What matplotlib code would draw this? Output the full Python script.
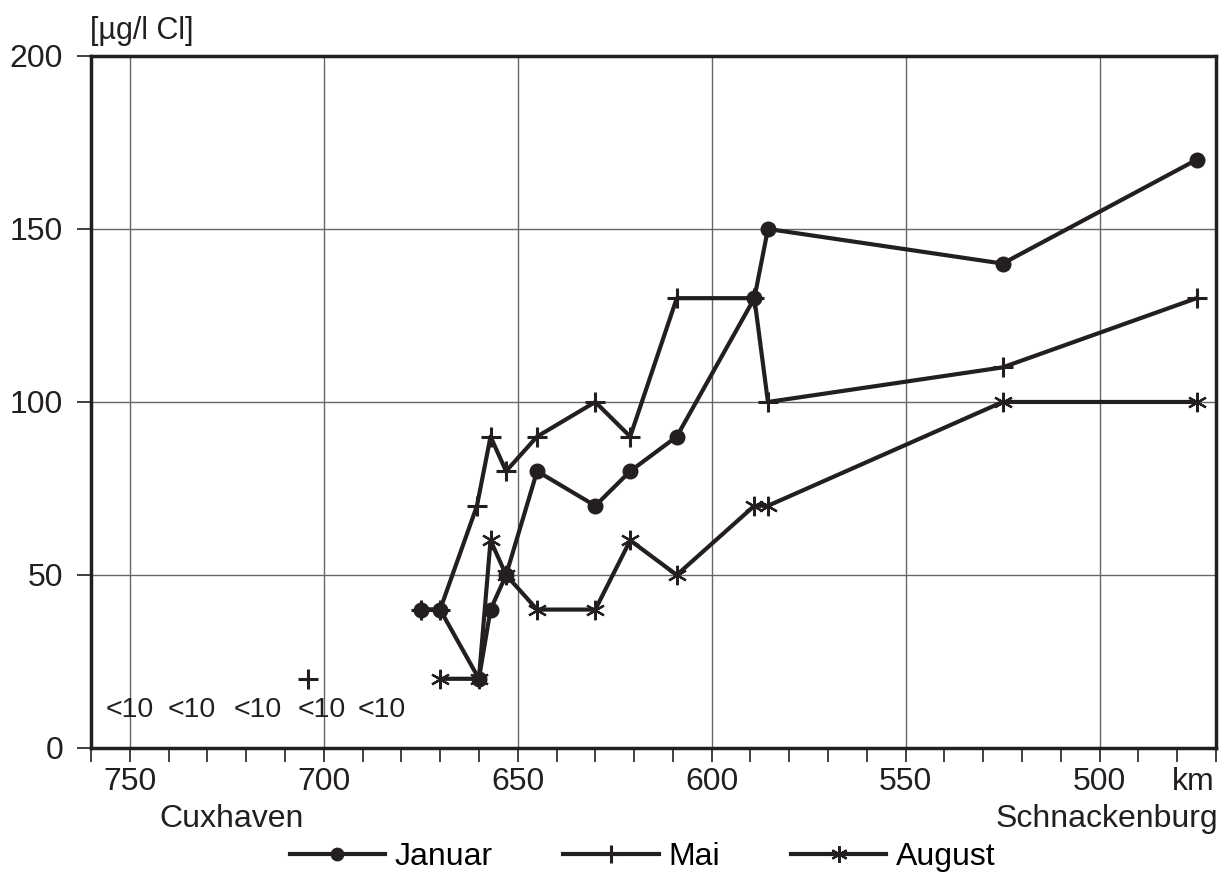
import matplotlib
matplotlib.use("Agg")
import matplotlib.pyplot as plt
import matplotlib.ticker as mticker

# ── Data (Elbe km, µg/l Cl) ───────────────────────────────────────────────────
km_januar = [675, 670, 660, 657, 653, 645, 630, 621, 609, 589, 585.5, 525, 475]
val_januar = [40, 40, 20, 40, 50, 80, 70, 80, 90, 130, 150, 140, 170]

km_mai = [675, 670, 660.5, 657, 653, 645, 630, 621, 609, 589, 585.5, 525, 475]
val_mai = [40, 40, 70, 90, 80, 90, 100, 90, 130, 130, 100, 110, 130]
km_mai_single = [704]
val_mai_single = [20]

km_august = [670, 660, 657, 653, 645, 630, 621, 609, 589, 585.5, 525, 475]
val_august = [20, 20, 60, 50, 40, 40, 60, 50, 70, 70, 100, 100]

below_km = [750, 734, 717, 700.5, 685]
below_label = "<10"

_INK = "#231f20"
_GRID = "#666666"
_FS = 23
plt.rcParams["font.family"] = ["Liberation Sans", "DejaVu Sans"]

fig = plt.figure(figsize=(12.24, 8.73), dpi=100)
ax = fig.add_axes([0.0743, 0.1432, 0.9192, 0.7927])

ax.plot(km_januar, val_januar, color=_INK, lw=3, marker="o", ms=10.5,
        label="Januar", zorder=3)
ax.plot(km_mai, val_mai, color=_INK, lw=3, marker="+", ms=15, mew=2.2,
        label="Mai", zorder=3)
ax.plot(km_mai_single, val_mai_single, color=_INK, lw=0, marker="+", ms=15,
        mew=2.2, zorder=3)
ax.plot(km_august, val_august, color=_INK, lw=3, marker=(6, 2, 0), ms=14,
        mew=1.6, label="August", zorder=3)

for k in below_km:
    ax.text(k, 11, below_label, ha="center", va="center", fontsize=20.5,
            color=_INK)

ax.set_xlim(760, 470)
ax.set_ylim(0, 200)
ax.set_xticks([750, 700, 650, 600, 550, 500])
ax.xaxis.set_minor_locator(mticker.MultipleLocator(10))
ax.set_yticks([0, 50, 100, 150, 200])
ax.grid(True, which="major", color=_GRID, lw=1.0)
ax.set_axisbelow(True)

for sp in ax.spines.values():
    sp.set_color(_INK)
    sp.set_linewidth(2.5)

ax.tick_params(axis="x", which="both", direction="out", length=10, width=1.2,
               colors=_INK, labelsize=_FS, pad=4)
ax.tick_params(axis="y", which="major", direction="out", length=10, width=1.2,
               colors=_INK, labelsize=_FS, pad=10)

fig.text(0.0735, 0.964, "[µg/l Cl]", fontsize=22, color=_INK, va="center",
         ha="left")
fig.text(0.975, 0.104, "km", fontsize=_FS, color=_INK, va="center",
         ha="center")
fig.text(0.1895, 0.062, "Cuxhaven", fontsize=_FS, color=_INK, va="center",
         ha="center")
fig.text(0.995, 0.062, "Schnackenburg", fontsize=_FS, color=_INK,
         va="center", ha="right")

leg = fig.legend(loc="center", bbox_to_anchor=(0.525, 0.018), ncol=3,
                 frameon=False, fontsize=_FS, handlelength=3.0,
                 handletextpad=0.3, columnspacing=2.2, borderaxespad=0,
                 borderpad=0, markerscale=0.85)

fig.savefig("out.png", dpi=100, facecolor="white")
